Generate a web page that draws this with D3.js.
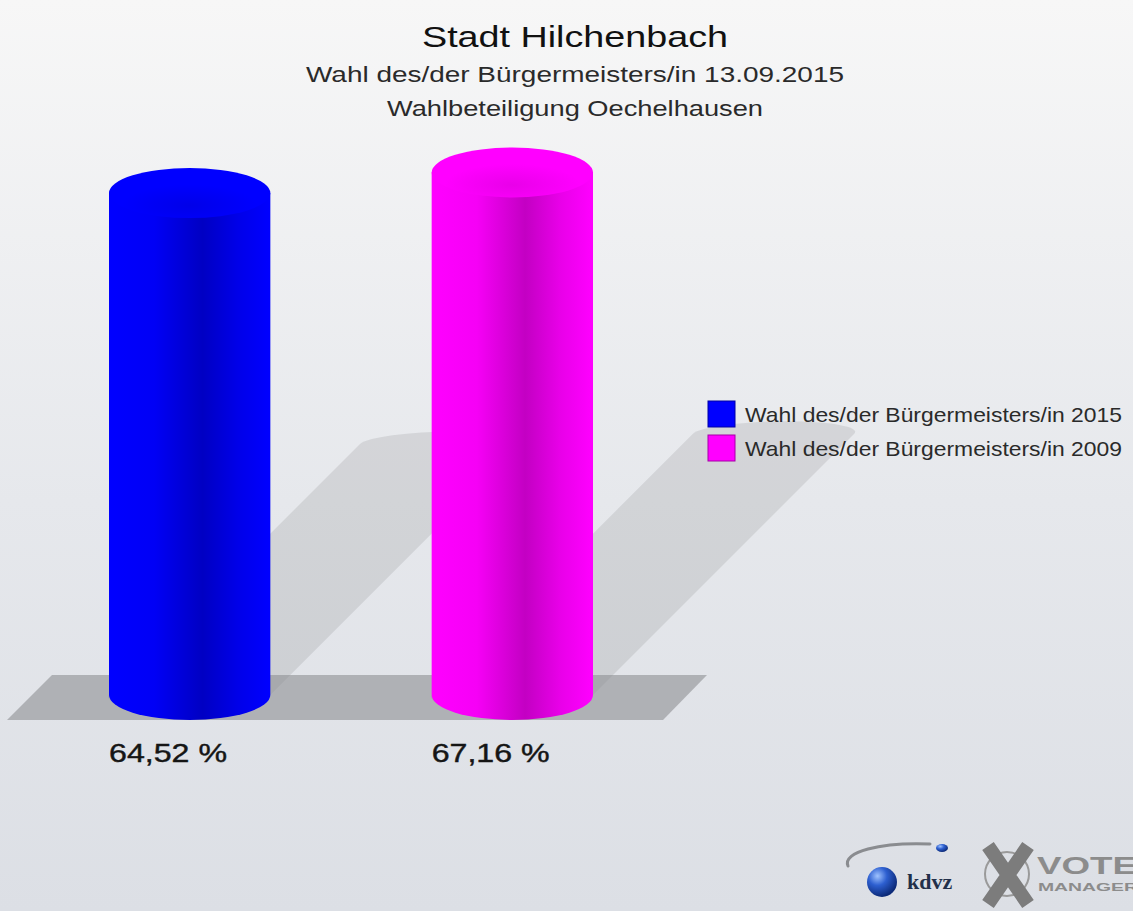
<!DOCTYPE html>
<html>
<head>
<meta charset="utf-8">
<script src="https://cdn.jsdelivr.net/npm/d3@7"></script>
<style>
  html, body { margin: 0; padding: 0; background: #ffffff; }
  svg { display: block; font-family: "Liberation Sans", Arial, sans-serif; }
</style>
</head>
<body>
<svg id="chart" width="1133" height="911"></svg>
<script>
// data
const categories = ["Wahl des/der Bürgermeisters/in 2015", "Wahl des/der Bürgermeisters/in 2009"]
const values = [64.52, 67.16]
const valueLabels = ["64,52 %", "67,16 %"]
const titleLines = ["Stadt Hilchenbach", "Wahl des/der Bürgermeisters/in 13.09.2015", "Wahlbeteiligung Oechelhausen"]
const palette = ["#0000ff", "#ff00ff"]

const width = 1133, height = 911
const svg = d3.select("#chart")
const defs = svg.append("defs")

// background
const bg = defs.append("linearGradient").attr("id", "bg").attr("x1", 0).attr("y1", 0).attr("x2", 0).attr("y2", 1)
bg.append("stop").attr("offset", "0%").attr("stop-color", "#f7f7f7")
bg.append("stop").attr("offset", "55%").attr("stop-color", "#e6e8ec")
bg.append("stop").attr("offset", "100%").attr("stop-color", "#dcdfe5")
svg.append("rect").attr("width", width).attr("height", height).attr("fill", "url(#bg)")

// scales
const x = d3.scaleBand().domain(categories).range([109, 593]).paddingInner(0.5).paddingOuter(0)
const y = d3.scaleLinear().domain([0, 100]).range([695, -83])
const color = d3.scaleOrdinal().domain(categories).range(palette)
const rx = x.bandwidth() / 2, ry = 25
const y0 = y(0)

const data = categories.map((c, i) => ({ cat: c, value: values[i], label: valueLabels[i] }))

// gradients for cylinder sides
data.forEach((d, i) => {
  const c = d3.color(color(d.cat))
  const g = defs.append("linearGradient").attr("id", "side" + i).attr("x1", 0).attr("x2", 1).attr("y1", 0).attr("y2", 0)
  const stops = [[0, 0], [0.28, 0.1], [0.58, 0.75], [0.8, 0.25], [1, 0]]
  stops.forEach(s => g.append("stop").attr("offset", s[0]).attr("stop-color", c.darker(s[1])))
  const t = defs.append("radialGradient").attr("id", "top" + i).attr("cx", "50%").attr("cy", "75%").attr("r", "60%")
  t.append("stop").attr("offset", "0%").attr("stop-color", c.darker(0.25))
  t.append("stop").attr("offset", "70%").attr("stop-color", c)
  t.append("stop").attr("offset", "100%").attr("stop-color", c)
})

function silhouette(d) {
  const l = x(d.cat), r = l + x.bandwidth(), yt = y(d.value)
  return `M${l},${yt} A${rx},${ry} 0 0 1 ${r},${yt} L${r},${y0} A${rx},${ry} 0 0 1 ${l},${y0} Z`
}
function sidePath(d) {
  const l = x(d.cat), r = l + x.bandwidth(), yt = y(d.value)
  return `M${l},${yt} L${l},${y0} A${rx},${ry} 0 0 0 ${r},${y0} L${r},${yt} Z`
}

// shadows (sheared silhouettes)
svg.append("g")
  .attr("transform", `matrix(1,0,-0.5,0.5,${0.5 * y0},${0.5 * y0})`)
  .selectAll("path").data(data).enter().append("path")
  .attr("d", silhouette)
  .attr("fill", "#000").attr("fill-opacity", 0.085)

// floor
const fl = x.range()[0] - 102, fr = x.range()[1] + 114
svg.append("path")
  .attr("d", `M${fl + 45},${y0 - 20} L${fr},${y0 - 20} L${fr - 44},${y0 + 25} L${fl},${y0 + 25} Z`)
  .attr("fill", "#8e8f92").attr("fill-opacity", 0.6)

// cylinders
const bars = svg.append("g").selectAll("g").data(data).enter().append("g")
bars.append("path").attr("d", sidePath).attr("fill", (d, i) => `url(#side${i})`)
bars.append("ellipse")
  .attr("cx", d => x(d.cat) + rx).attr("cy", d => y(d.value))
  .attr("rx", rx).attr("ry", ry)
  .attr("fill", (d, i) => `url(#top${i})`)

// value labels
svg.append("g").selectAll("text").data(data).enter().append("text")
  .attr("x", d => x(d.cat)).attr("y", 762)
  .attr("font-size", 25).attr("fill", "#151515")
  .attr("stroke", "#151515").attr("stroke-width", 0.4)
  .attr("textLength", 118).attr("lengthAdjust", "spacingAndGlyphs")
  .text(d => d.label)

// titles
const tsize = [30, 22, 22], tbase = [47, 82, 116], tlen = [306, 538, 376]
svg.append("g").selectAll("text").data(titleLines).enter().append("text")
  .attr("x", 575).attr("y", (d, i) => tbase[i])
  .attr("text-anchor", "middle")
  .attr("font-size", (d, i) => tsize[i])
  .attr("fill", (d, i) => i === 0 ? "#111" : "#2a2a2a")
  .attr("textLength", (d, i) => tlen[i]).attr("lengthAdjust", "spacingAndGlyphs")
  .text(d => d)

// legend
const legend = svg.append("g").attr("transform", "translate(708,401)")
const li = legend.selectAll("g").data(categories).enter().append("g")
  .attr("transform", (d, i) => `translate(0,${i * 34})`)
li.append("rect").attr("width", 27).attr("height", 26)
  .attr("fill", d => color(d)).attr("stroke", d => d3.color(color(d)).darker(1.2)).attr("stroke-width", 1)
li.append("text").attr("x", 37).attr("y", 21)
  .attr("font-size", 21).attr("fill", "#2a2a2a")
  .attr("textLength", 377).attr("lengthAdjust", "spacingAndGlyphs")
  .text(d => d)

// logo (kdvz / VOTE MANAGER)
const logo = svg.append("g")
const sph = defs.append("radialGradient").attr("id", "sph").attr("cx", "35%").attr("cy", "30%").attr("r", "70%")
sph.append("stop").attr("offset", "0%").attr("stop-color", "#9fc3ff")
sph.append("stop").attr("offset", "45%").attr("stop-color", "#2d5fd0")
sph.append("stop").attr("offset", "100%").attr("stop-color", "#0c2a78")
logo.append("path").attr("d", "M848,866 C842,852 880,842 930,844")
  .attr("fill", "none").attr("stroke", "#8a8c90").attr("stroke-width", 3).attr("stroke-linecap", "round")
logo.append("ellipse").attr("cx", 942).attr("cy", 848).attr("rx", 6).attr("ry", 4).attr("fill", "url(#sph)")
logo.append("circle").attr("cx", 882).attr("cy", 882).attr("r", 15).attr("fill", "url(#sph)")
logo.append("text").attr("x", 907).attr("y", 889)
  .attr("font-family", "'Liberation Serif', serif").attr("font-weight", "bold").attr("font-size", 22)
  .attr("fill", "#23304a").text("kdvz")
logo.append("circle").attr("cx", 1007).attr("cy", 874).attr("r", 22)
  .attr("fill", "none").attr("stroke", "#9a9a9a").attr("stroke-width", 2)
logo.append("path").attr("d", "M988,846 L1028,904 M1028,846 L988,904")
  .attr("stroke", "#7c7c7c").attr("stroke-width", 14).attr("stroke-linecap", "butt")
logo.append("text").attr("x", 1037).attr("y", 874)
  .attr("font-weight", "bold").attr("font-size", 24).attr("fill", "#8c8c8c")
  .attr("textLength", 100).attr("lengthAdjust", "spacingAndGlyphs").text("VOTE")
logo.append("text").attr("x", 1038).attr("y", 891)
  .attr("font-weight", "bold").attr("font-size", 11).attr("fill", "#8c8c8c")
  .attr("textLength", 100).attr("lengthAdjust", "spacingAndGlyphs").text("MANAGER")
</script>
</body>
</html>
